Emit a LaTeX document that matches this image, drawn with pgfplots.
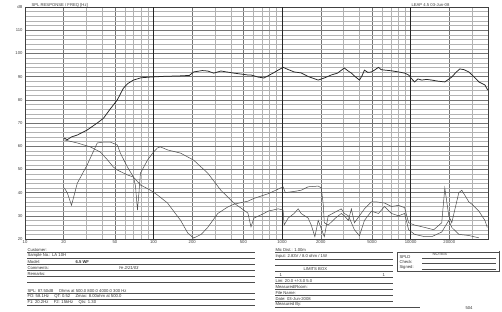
\documentclass[border=0pt]{standalone}
\usepackage{pgfplots}
\pgfplotsset{compat=1.18}
\usepackage{fontspec}
\setmainfont{Liberation Sans}
\newcommand{\tf}{\fontsize{4.2}{4.6}\selectfont}
\begin{document}
\begin{tikzpicture}[x=1pt,y=1pt]
\path[use as bounding box] (0,0) rectangle (502,312);
\begin{axis}[
  at={(25pt,73pt)}, anchor=south west, scale only axis,
  width=463pt, height=232pt,
  xmode=log, xmin=10, xmax=40000, ymin=20, ymax=120,
  xtick={10,20,50,100,200,500,1000,2000,5000,10000,20000},
  xticklabels={10,20,50,100,200,500,1000,2000,5000,10000,20000},
  minor xtick={30,40,60,70,80,90,300,400,600,700,800,900,3000,4000,6000,7000,8000,9000,30000},
  ytick={20,30,...,120},
  yticklabels={20,30,40,50,60,70,80,90,100,110,dB},
  minor ytick={22,24,...,118},
  grid=both,
  major grid style={black!55, line width=0.5pt},
  minor grid style={black!30, line width=0.3pt},
  extra x ticks={100,1000,10000},
  extra x tick labels={},
  extra x tick style={grid=major, major grid style={black!85, line width=1pt}},
  tick style={draw=none},
  ticklabel style={font=\tf, text=black!75},
  xticklabel style={yshift=2pt},
  yticklabel style={xshift=1pt},
  axis line style={black!75, line width=0.6pt},
  clip=true,
]
% main SPL response
\addplot[black!85, line width=0.75pt] coordinates {
(20.2,63.5) (21.3,62.8) (23,64) (25.5,64.8) (30.5,67) (36.5,70) (40.7,72)
(46,76) (52.3,80) (58.3,85) (63,87) (69.8,88.5) (80,89.5) (94.8,89.8)
(120,90.1) (160,90.3) (190,90.5) (205,92) (240,92.6) (264,92.4) (294,91.5)
(334,92.4) (422,91.5) (542,90.7) (573,90.7) (650,89.8) (723,89.4) (850,91.5)
(1018,94) (1120,93) (1241,92) (1406,91.6) (1600,90) (1910,88.5) (2150,89.5)
(2414,90.7) (2700,91.5) (3050,93.7) (3250,92.5) (3460,91.5) (3700,90)
(4000,88.5) (4200,90.5) (4372,92.8) (4650,91.8) (4960,92) (5300,93)
(5623,94) (5900,93) (6266,92.8) (7100,92.5) (8054,92) (9000,91.5)
(9645,90.7) (10200,89) (10740,87.7) (11400,89) (12190,88.5) (13300,88.8)
(14590,88.5) (16500,88) (18450,87.7) (20900,89.8) (22500,91.8) (24150,93.3)
(26000,93) (28380,92) (31000,90) (34000,87.7) (37840,86.4) (39800,84.2)
};
% distortion curve 1
\addplot[black!70, line width=0.5pt] coordinates {
(20.2,62.7) (25.5,61.4) (32.2,59.7) (38.5,57.5) (44,54) (48.7,51) (52.3,49.7)
(62.7,47.6) (69.8,46.7) (79.1,43.3) (94.8,41) (107,39) (128.6,35.5)
(162.5,28) (184.5,22.6) (205,20.4) (235,22) (264,25) (316,31) (378,33.8)
(422,35) (542,36.3) (604,37.5) (778,39.5) (931,41.5) (1018,42.5) (1060,40)
(1241,40.5) (1406,41) (1596,42.5) (1910,42.8) (2018,42) (2090,35) (2130,27)
(2286,26) (2600,29) (2890,31) (3050,30) (3280,28) (3460,33) (3652,27)
(4000,30) (4372,33) (4960,36) (5425,36) (6266,35.5) (7110,34) (8054,34.5)
(8980,33.5) (9645,27) (10740,26) (12860,25) (15130,24) (17460,27)
(18450,42) (19815,30) (20900,27) (23710,40) (25030,41) (28380,36)
(29970,35) (34000,32) (37840,28) (39500,25)
};
% distortion curve 2
\addplot[black!70, line width=0.5pt] coordinates {
(20.2,42) (21.3,40) (23,34.5) (25.5,44) (30.5,52) (36.5,61.4) (40.7,61.8)
(46,61.8) (52.3,60.5) (55.2,57) (62.7,51) (69.8,46.7) (72.3,43) (75,32.5)
(77,40) (79.1,48.4) (89.8,54) (100,57.5) (107,59.2) (113,59.7) (128.6,58.4)
(162.5,57) (205,54) (264,48.4) (334,41) (422,35.5) (542,31.2) (573,25.2)
(604,29) (723,31) (778,32) (931,33) (1018,32.5) (1037,26) (1114,29)
(1241,31) (1334,33) (1406,31) (1596,29) (1686,26) (1800,21) (1910,28)
(2130,21) (2286,30) (2890,33) (3050,31) (3280,30) (3652,24) (4000,21.4)
(4372,28) (4960,32) (5623,31) (6266,34) (7110,31) (8054,30) (8980,31)
(9645,24) (10740,22) (12860,21) (14590,21) (17460,23) (19815,28)
(20900,25) (23710,22) (28380,21.5) (34000,20.5)
};
\end{axis}
% header texts
\node[anchor=west, font=\tf, text=black!75] at (28,306.5) {SPL RESPONSE / FREQ [Hz]};
\node[anchor=west, font=\tf, text=black!75] at (408,306.5) {LEAP 4.5  03-Jun-08};
% form
\begin{scope}[black!70, line width=0.4pt]
\foreach \yy in {252,258,264,270,276,282,293,299,305}
  \draw (27,312-\yy) -- (255,312-\yy);
\foreach \yy in {252,259,265,271,277,283,289,295,301}
  \draw (275,312-\yy) -- (393,312-\yy);
\draw (275,312-307) -- (420,312-307);
\draw (397,312-252) rectangle (499,312-271);
\draw[line width=1pt] (499,312-251) -- (499,312-272);
\draw (422,312-258) -- (496,312-258);
\draw (422,312-263.5) -- (496,312-263.5);
\draw (422,312-269) -- (496,312-269);
\end{scope}
\begin{scope}[font=\tf, text=black!80]
\node[anchor=south west, inner sep=0.3pt] at (27,312-252) {Customer:};
\node[anchor=south west, inner sep=0.3pt] at (27,312-258) {Sample No.:  LA 10H};
\node[anchor=south west, inner sep=0.3pt] at (27,312-264) {Model:};
\node[anchor=south west, inner sep=0.3pt] at (75,312-264) {\textbf{6.5 WF}};
\node[anchor=south west, inner sep=0.3pt] at (27,312-270) {Comments:};
\node[anchor=south west, inner sep=0.3pt] at (118,312-270) {\itshape Ye 2/21/03};
\node[anchor=south west, inner sep=0.3pt] at (27,312-276) {Remarks:};
\node[anchor=south west, inner sep=0.3pt] at (27,312-293) {SPL: 87.50dB \quad Ohms at 500.0 800.0 4000.0 300 Hz};
\node[anchor=south west, inner sep=0.3pt] at (27,312-299) {FO: 58.1Hz \quad QT: 0.52 \quad Zmax: 8.00ohm at 500.0};
\node[anchor=south west, inner sep=0.3pt] at (27,312-305) {F1: 20.2Hz \quad F2: 15kHz \quad Qts: 1.30};
\node[anchor=south west, inner sep=0.3pt] at (275,312-252) {Mic Dist.: 1.00m};
\node[anchor=south west, inner sep=0.3pt] at (275,312-259) {Input: 2.83V / 8.0 ohm / 1W};
\node[anchor=south west, inner sep=0.3pt] at (303,312-271) {LIMITS BOX};
\node[anchor=south west, inner sep=0.3pt] at (279,312-277) {1};
\node[anchor=south west, inner sep=0.3pt] at (382,312-277) {1};
\node[anchor=south west, inner sep=0.3pt] at (275,312-283) {Lim: 20.0 +/-3.0 5.0};
\node[anchor=south west, inner sep=0.3pt] at (275,312-289) {Measured/Room:};
\node[anchor=south west, inner sep=0.3pt] at (275,312-295) {File Name:};
\node[anchor=south west, inner sep=0.3pt] at (275,312-301) {Date: 03-Jun-2008};
\node[anchor=south west, inner sep=0.3pt] at (275,312-307) {Measured By:};
\node[anchor=south west, inner sep=0.3pt] at (432,312-256.5) {NOTES};
\node[anchor=south west, inner sep=0.3pt] at (399,312-259) {SPLD};
\node[anchor=south west, inner sep=0.3pt] at (399,312-264.5) {Check:};
\node[anchor=south west, inner sep=0.3pt] at (399,312-270) {Signed:};
\node[anchor=center, inner sep=0.3pt] at (469,312-308) {504};
\end{scope}
\end{tikzpicture}
\end{document}
